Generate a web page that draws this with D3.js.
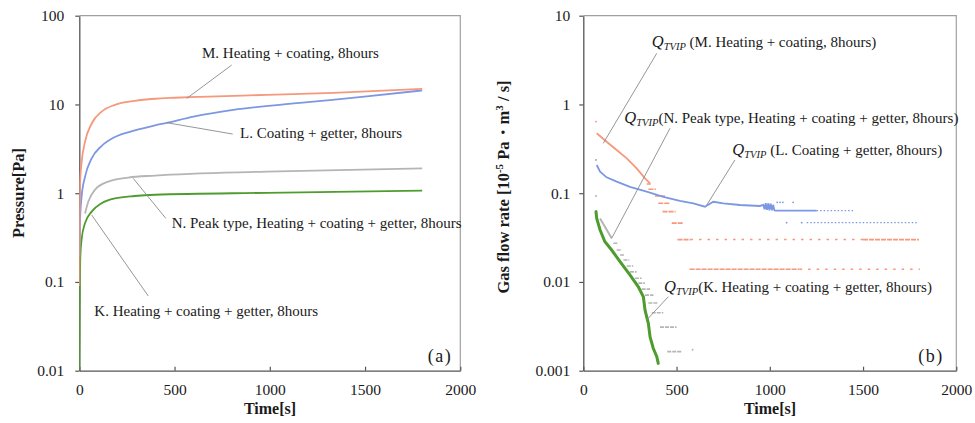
<!DOCTYPE html>
<html><head><meta charset="utf-8">
<script src="https://cdn.jsdelivr.net/npm/d3@7"></script>
<style>
body{margin:0;background:#fff;}
svg{display:block;font-family:"Liberation Serif","Times New Roman",serif;}
</style></head><body>
<svg id="chart" width="975" height="423"></svg>
<script>
// ---------------- data ----------------
const xTicks = [0, 500, 1000, 1500, 2000];
const yTicksA = [0.01, 0.1, 1, 10, 100];
const yTicksB = [0.001, 0.01, 0.1, 1, 10];
const yTickLabelsA = ["0.01", "0.1", "1", "10", "100"];
const yTickLabelsB = ["0.001", "0.01", "0.1", "1", "10"];

// (a) pressure [Pa] vs time [s]
const pressureM = [[0,0.09],[2,0.6],[4,1.3],[12,2.2],[30,3.8],[65,6.1],[117,8.3],[187,9.9],[292,11.0],[397,11.6],[500,11.9],[634,12.2],[983,12.8],[1334,13.5],[1800,15.0]];
const pressureL = [[0,0.2],[4,0.5],[12,0.91],[30,1.53],[65,2.47],[117,3.4],[187,4.3],[292,5.1],[397,5.8],[459,6.2],[600,7.3],[808,8.7],[1158,10.4],[1509,12.3],[1800,14.4]];
const pressureN = [[30,0.59],[47,0.80],[82,1.09],[152,1.35],[257,1.5],[397,1.58],[983,1.75],[1800,1.9]];
const pressureK = [[0,0.01],[3,0.09],[5,0.18],[12,0.30],[30,0.46],[65,0.62],[117,0.77],[187,0.875],[292,0.93],[397,0.96],[983,1.01],[1800,1.07]];

// (b) gas flow rate [1e-5 Pa m3/s] vs time [s]
const flowMLine = [[72,0.473],[125,0.38],[179,0.307],[233,0.247],[286,0.19],[331,0.147],[358,0.129]];
const flowMDots = [[68,0.64]];
const flowMRuns = [[340,362,0.127],[349,389,0.111],[384,438,0.093],[402,465,0.077],[425,495,0.062],[474,537,0.046],[505,575,0.030],[1500,1800,0.030],[570,1160,0.0139]];
const flowMSparse = [[575,1500,0.030],[1160,1805,0.0139]];

const flowLLine = [[72,0.208],[90,0.175],[125,0.151],[179,0.135],[250,0.118],[340,0.104],[429,0.091],[518,0.082],[590,0.077],[652,0.0705],[697,0.080],[751,0.077],[840,0.0736],[947,0.0718],[965,0.074],[972,0.066],[978,0.077],[985,0.065],[992,0.077],[998,0.064],[1005,0.076],[1012,0.064],[1018,0.074],[1025,0.064],[1037,0.0636],[1251,0.0636]];
const flowLDots = [[68,0.237],[1040,0.079],[1055,0.079],[1070,0.079],[1125,0.079],[1090,0.0466],[1171,0.0466]];
const flowLSparse = [[1251,1446,0.0636],[1198,1788,0.0466]];

const flowK = [[68,0.062],[72,0.052],[90,0.0385],[116,0.0284],[152,0.0229],[197,0.0169],[250,0.012],[295,0.0088],[322,0.0068],[331,0.0048],[349,0.0034],[358,0.0024],[375,0.00179],[394,0.00144],[402,0.00121]];

const flowNLine = [[90,0.052],[116,0.042],[152,0.031]];
const flowNRuns = [[161,188,0.0273],[179,206,0.0229],[197,224,0.0201],[215,247,0.0177],[233,268,0.0151],[250,286,0.0130],[277,313,0.0110],[295,331,0.0097],[313,358,0.0083],[331,376,0.0071],[349,402,0.0058],[367,429,0.0045],[411,500,0.0031],[450,527,0.00164]];
const flowNDots = [[68,0.093],[586,0.00172]];

// annotations: text anchor and leader line in data units
const notesA = [
  {text:"M. Heating + coating, 8hours", at:[644,33.3], from:[800,27.8], to:[564,11.7]},
  {text:"L. Coating + getter, 8hours", at:[844,4.19], from:[459,6.23], to:[805,4.64]},
  {text:"N. Peak type, Heating + coating + getter, 8hours", at:[485,0.405], from:[283,1.47], to:[454,0.521]},
  {text:"K. Heating + coating + getter, 8hours", at:[79,0.0413], from:[65,0.568], to:[362,0.0695]}
];
const notesB = [
  {text:" (M. Heating + coating, 8hours)", at:[367,4.47], from:[394,3.77], to:[107,0.365]},
  {text:"(N. Peak type, Heating + coating + getter, 8hours)", at:[220,0.618], from:[465,0.539], to:[152,0.031]},
  {text:" (L. Coating + getter, 8hours)", at:[799,0.269], from:[813,0.237], to:[662,0.0736]},
  {text:"(K. Heating + coating + getter, 8hours)", at:[433,0.00776], from:[456,0.00682], to:[340,0.00373]}
];

// ---------------- drawing ----------------
const C = {orange:"#f6987c", blue:"#7d98e2", gray:"#b5b5b5", green:"#4f9c2e", axis:"#555", frame:"#a0a0a0", text:"#1a1a1a", lead:"#8a8a8a"};
const svg = d3.select("#chart");

function panel(box, yDomain, yTicks, yLabels, yPad) {
  const x = d3.scaleLinear().domain([0, 2000]).range([box.l, box.r]);
  const y = d3.scaleLog().domain(yDomain).range([box.b, box.t]);
  const g = svg.append("g");
  g.append("path").attr("d", `M${box.l},${box.t}H${box.r}V${box.b}`).attr("fill","none").attr("stroke",C.frame).attr("stroke-width",1.2);
  const ax = g.append("g").attr("transform",`translate(0,${box.b})`)
    .call(d3.axisBottom(x).tickValues(xTicks).tickFormat(d3.format("d")).tickSizeInner(-4).tickSizeOuter(0).tickPadding(13));
  const ay = g.append("g").attr("transform",`translate(${box.l},0)`)
    .call(d3.axisLeft(y).tickValues(yTicks).tickFormat((d,i)=>yLabels[i]).tickSizeInner(4).tickSizeOuter(0).tickPadding(yPad));
  [ax, ay].forEach(a => {
    a.select(".domain").attr("stroke",C.axis).attr("stroke-width",1.3);
    a.selectAll(".tick line").attr("stroke",C.axis).attr("stroke-width",1.2);
    a.selectAll("text").attr("font-family","Liberation Serif").attr("font-size",15.5).attr("fill",C.text);
  });
  return {x, y, g};
}

const A = panel({l:79.3, r:460.3, t:15.7, b:370.7}, [0.01,100], yTicksA, yTickLabelsA, 11);
const B = panel({l:583.3, r:956.3, t:15.7, b:370.7}, [0.001,10], yTicksB, yTickLabelsB, 9);

function clip(id, p){
  svg.append("clipPath").attr("id",id).append("rect")
    .attr("x",p.x.range()[0]).attr("y",p.y.range()[1]).attr("width",p.x.range()[1]-p.x.range()[0]).attr("height",p.y.range()[0]-p.y.range()[1]);
}
clip("ca", A); clip("cb", B);

// ---- panel (a) curves ----
const la = d3.line().x(d=>A.x(d[0])).y(d=>A.y(d[1])).curve(d3.curveMonotoneX);
const ga = A.g.append("g").attr("clip-path","url(#ca)");
[[pressureN,C.gray],[pressureK,C.green],[pressureL,C.blue],[pressureM,C.orange]].forEach(([d,c])=>{
  ga.append("path").datum(d).attr("d",la).attr("fill","none").attr("stroke",c).attr("stroke-width",1.8);
});

// ---- panel (b) ----
const lb = d3.line().x(d=>B.x(d[0])).y(d=>B.y(d[1]));
const gb = B.g.append("g").attr("clip-path","url(#cb)");
function runs(data, color, w, dash){
  gb.selectAll(null).data(data).enter().append("line")
    .attr("x1",d=>B.x(d[0])).attr("x2",d=>B.x(d[1])).attr("y1",d=>B.y(d[2])).attr("y2",d=>B.y(d[2]))
    .attr("stroke",color).attr("stroke-width",w).attr("stroke-dasharray",dash||null);
}
function dots(data, color, r){
  gb.selectAll(null).data(data).enter().append("circle")
    .attr("cx",d=>B.x(d[0])).attr("cy",d=>B.y(d[1])).attr("r",r).attr("fill",color);
}
gb.append("path").datum(flowNLine).attr("d",lb).attr("fill","none").attr("stroke",C.gray).attr("stroke-width",2);
runs(flowNRuns, C.gray, 1.6, "4,1");
dots(flowNDots, C.gray, 1);
gb.append("path").datum(flowMLine).attr("d",lb).attr("fill","none").attr("stroke",C.orange).attr("stroke-width",1.8);
runs(flowMRuns, C.orange, 1.6, "5,1");
runs(flowMSparse, C.orange, 1.5, "2.5,6");
dots(flowMDots, C.orange, 0.9);
gb.append("path").datum(flowLLine).attr("d",lb).attr("fill","none").attr("stroke",C.blue).attr("stroke-width",1.8);
runs(flowLSparse, C.blue, 1.3, "1.5,2");
dots(flowLDots, C.blue, 0.9);
gb.append("path").datum(flowK).attr("d",lb).attr("fill","none").attr("stroke",C.green).attr("stroke-width",3).attr("stroke-linecap","round");

// ---- annotations ----
function leaders(p, notes){
  p.g.selectAll(null).data(notes).enter().append("line")
    .attr("x1",d=>p.x(d.from[0])).attr("y1",d=>p.y(d.from[1]))
    .attr("x2",d=>p.x(d.to[0])).attr("y2",d=>p.y(d.to[1]))
    .attr("stroke",C.lead).attr("stroke-width",0.9);
}
leaders(A, notesA); leaders(B, notesB);
A.g.selectAll(null).data(notesA).enter().append("text")
  .attr("x",d=>A.x(d.at[0])).attr("y",d=>A.y(d.at[1]))
  .attr("font-size",15).attr("fill",C.text).text(d=>d.text);
const tb = B.g.selectAll(null).data(notesB).enter().append("text")
  .attr("x",d=>B.x(d.at[0])).attr("y",d=>B.y(d.at[1]))
  .attr("font-size",15).attr("fill",C.text);
tb.append("tspan").attr("font-style","italic").attr("font-size",16.5).text("Q");
tb.append("tspan").attr("font-style","italic").attr("font-size",10.5).attr("dy",3).text("TVIP");
tb.append("tspan").attr("dy",-3).text(d=>d.text);

svg.append("text").attr("x",440).attr("y",362).attr("text-anchor","middle").attr("font-size",18).attr("letter-spacing",1.5).attr("fill",C.text).text("(a)");
svg.append("text").attr("x",931).attr("y",362).attr("text-anchor","middle").attr("font-size",18).attr("letter-spacing",1.5).attr("fill",C.text).text("(b)");

svg.append("text").attr("x",270).attr("y",414).attr("text-anchor","middle").attr("font-weight","bold").attr("font-size",16).attr("fill",C.text).text("Time[s]");
svg.append("text").attr("x",770).attr("y",414).attr("text-anchor","middle").attr("font-weight","bold").attr("font-size",16).attr("fill",C.text).text("Time[s]");
svg.append("text").attr("transform","translate(24,193) rotate(-90)").attr("text-anchor","middle").attr("font-weight","bold").attr("font-size",16.5).attr("fill",C.text).text("Pressure[Pa]");
const yt = svg.append("text").attr("transform","translate(509,187) rotate(-90)").attr("text-anchor","middle").attr("font-weight","bold").attr("font-size",16.5).attr("fill",C.text);
yt.append("tspan").text("Gas flow rate [10");
yt.append("tspan").attr("dy",-6).attr("font-size",11).text("-5");
yt.append("tspan").attr("dy",6).text(" Pa・m");
yt.append("tspan").attr("dy",-6).attr("font-size",11).text("3");
yt.append("tspan").attr("dy",6).text(" / s]");
</script>
</body></html>
